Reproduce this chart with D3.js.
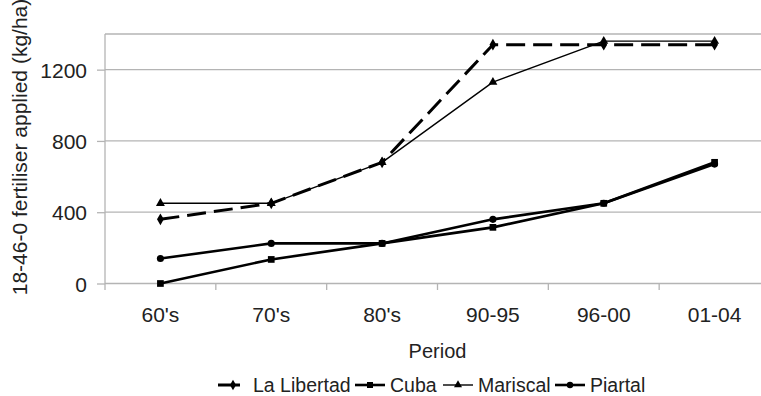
<!DOCTYPE html>
<html><head><meta charset="utf-8">
<script src="https://cdn.jsdelivr.net/npm/d3@7"></script>
<style>
body{margin:0;background:#fff}
svg{display:block}
text{font-family:"Liberation Sans",Arial,sans-serif;fill:#222}
</style>
</head><body>
<svg id="c" width="761" height="396"></svg>
<script>
const categories = ["60's","70's","80's","90-95","96-00","01-04"];
const laLibertad = [360,450,680,1340,1340,1340];
const cuba = [0,135,225,315,450,680];
const mariscal = [450,450,680,1130,1360,1360];
const piartal = [140,225,225,360,450,670];
const seriesNames = ["La Libertad","Cuba","Mariscal","Piartal"];
const yTicks = [0,400,800,1200];
const yMax = 1400;
const xTitle = "Period";
const yTitle = "18-46-0 fertiliser applied (kg/ha)";

const svg = d3.select("#c");
const L = 105, R = 770, T = 34, B = 283.5;
const x = d3.scaleBand().domain(categories).range([L, R]).padding(0);
const y = d3.scaleLinear().domain([0, yMax]).range([B, T]);
const cx = c => x(c) + x.bandwidth()/2;

// gridlines
svg.append("g").selectAll("line").data(yTicks.concat([yMax])).join("line")
  .attr("x1", L).attr("x2", R).attr("y1", d => y(d)).attr("y2", d => y(d))
  .attr("stroke", "#b4b4b4").attr("stroke-width", 1.3);

// y axis
const ya = svg.append("g").attr("transform", `translate(${L},0)`)
  .call(d3.axisLeft(y).tickValues(yTicks).tickSize(8).tickPadding(10).tickFormat(d3.format("d")));
ya.select(".domain").attr("stroke", "#b4b4b4").attr("stroke-width", 1.3).attr("d", `M0,${T}V${B+6.5}`);
ya.selectAll(".tick line").attr("stroke", "#b4b4b4").attr("stroke-width", 1.3);
ya.selectAll(".tick text").attr("font-size", 21).attr("fill", "#222")
  .attr("font-family", '"Liberation Sans",Arial,sans-serif').attr("dy", "0.36em");

// x axis
const xa = svg.append("g").attr("transform", `translate(0,${B})`)
  .call(d3.axisBottom(x).tickSize(0).tickPadding(24));
xa.select(".domain").remove();
xa.selectAll(".tick text").attr("font-size", 21).attr("fill", "#222")
  .attr("font-family", '"Liberation Sans",Arial,sans-serif');
// band boundary ticks
svg.append("g").selectAll("line").data(categories.slice(1)).join("line")
  .attr("x1", d => x(d)).attr("x2", d => x(d)).attr("y1", B).attr("y2", B + 6.5)
  .attr("stroke", "#b4b4b4").attr("stroke-width", 1.3);

// titles
svg.append("text").attr("x", (L+R)/2).attr("y", 358).attr("text-anchor", "middle")
  .attr("font-size", 20).text(xTitle);
svg.append("text").attr("transform", "translate(27,147) rotate(-90)")
  .attr("text-anchor", "middle").attr("font-size", 21).text(yTitle);

// series
const series = [
  {name: seriesNames[0], values: laLibertad, width: 3, dash: "19,8", sym: d3.symbolDiamond, size: 40},
  {name: seriesNames[1], values: cuba, width: 2.6, dash: null, sym: d3.symbolSquare, size: 45},
  {name: seriesNames[2], values: mariscal, width: 1.4, dash: null, sym: d3.symbolTriangle, size: 35},
  {name: seriesNames[3], values: piartal, width: 2.6, dash: null, sym: d3.symbolCircle, size: 40}
];
const line = d3.line().x((d,i) => cx(categories[i])).y(d => y(d));
const drawOrder = [2, 3, 1, 0];
drawOrder.forEach(k => {
  const s = series[k];
  const g = svg.append("g");
  g.append("path").attr("d", line(s.values)).attr("fill", "none")
    .attr("stroke", "#000").attr("stroke-width", s.width)
    .attr("stroke-dasharray", s.dash).attr("stroke-linejoin", "round");
  g.selectAll("path.m").data(s.values).join("path").attr("class", "m")
    .attr("d", d3.symbol().type(s.sym).size(s.size))
    .attr("transform", (d,i) => `translate(${cx(categories[i])},${y(d)})`)
    .attr("fill", "#000");
});

// legend
const legX = [218, 355, 443, 555];
const legY = 385;
series.forEach((s, k) => {
  const g = svg.append("g").attr("transform", `translate(${legX[k]},${legY})`);
  if (s.dash) {
    g.append("line").attr("x1", 0).attr("x2", 22).attr("stroke", "#000").attr("stroke-width", s.width);
  } else {
    g.append("line").attr("x1", 0).attr("x2", 30).attr("stroke", "#000").attr("stroke-width", s.width);
  }
  g.append("path").attr("d", d3.symbol().type(s.sym).size(s.size*0.8)).attr("transform", "translate(15,0)").attr("fill", "#000");
  g.append("text").attr("x", 35).attr("y", 6.5).attr("font-size", 19.5).text(s.name);
});
</script>
</body></html>
